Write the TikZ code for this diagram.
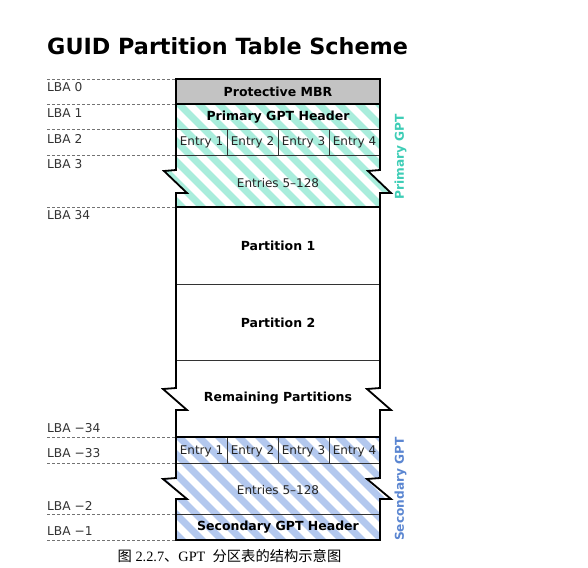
\documentclass[tikz,border=0pt]{standalone}
\usepackage{fontspec}
\setmainfont{DejaVu Sans}
\newfontfamily\cjk{Noto Sans CJK SC}
\newfontfamily\capserif{Liberation Serif}
\usepackage{xcolor}
\usepackage{tikz}

\definecolor{priteal}{HTML}{A9EDDC}
\definecolor{pritealtext}{HTML}{3ECDB6}
\definecolor{secblue}{HTML}{B3C8EE}
\definecolor{secbluetext}{HTML}{5B86D1}
\definecolor{mbrgray}{HTML}{C3C3C3}

\begin{document}
\begin{tikzpicture}[x=1pt, y=-1pt,
    lba/.style={anchor=west, inner sep=0pt, text=black!80,
                font=\fontsize{12.2}{14}\selectfont},
    lbaline/.style={dash pattern=on 3pt off 2pt, black!55, line width=0.8pt},
    bold/.style={inner sep=0pt, font=\fontsize{12.5}{14}\selectfont\bfseries},
    plain/.style={inner sep=0pt, text=black!85, font=\fontsize{12}{14}\selectfont},
    side/.style={rotate=90, inner sep=0pt, font=\fontsize{12.2}{14}\selectfont\bfseries},
    stripe/.style={line width=7pt},
    thin/.style={line width=0.9pt, black!80},
    thick/.style={line width=1.8pt, black},
  ]
    \useasboundingbox (0,0) rectangle (588,567);

    % title
    \node[anchor=base west, inner sep=0pt, font=\fontsize{22.3}{26}\selectfont\bfseries]
      (title) at (47,55) {GUID Partition Table Scheme};

    % fills
    \fill[mbrgray] (176,79) rectangle (380,104);
    \begin{scope}
      \clip (176,104) -- (176,170) -- (164,171) -- (187,193) -- (176,193) -- (176,207)
         -- (380,207) -- (380,193) -- (391,193) -- (368,171) -- (380,170) -- (380,104) -- cycle;
      \foreach \s in {0,...,20}
        \draw[stripe, priteal] ({30+20*\s},95) -- ++(125,125);
    \end{scope}
    \begin{scope}
      \clip (176,437) -- (176,478) -- (163,479) -- (187,499) -- (176,499) -- (176,540)
         -- (380,540) -- (380,499) -- (391,499) -- (367,479) -- (380,478) -- (380,437) -- cycle;
      \foreach \s in {0,...,20}
        \draw[stripe, secblue] ({30+20*\s},428) -- ++(125,125);
    \end{scope}

    % LBA guides
    \foreach \y in {79,104,129,155,207,437,463,514,540}
      \draw[lbaline] (47,\y) -- (176,\y);
    \node[lba] (lba0)  at (47,87)  {LBA 0};
    \node[lba] (lba1)  at (47,113) {LBA 1};
    \node[lba] (lba2)  at (47,139) {LBA 2};
    \node[lba] (lba3)  at (47,164) {LBA 3};
    \node[lba] (lba34) at (47,215) {LBA 34};
    \node[lba] (lbam34) at (47,428) {LBA −34};
    \node[lba] (lbam33) at (47,453) {LBA −33};
    \node[lba] (lbam2)  at (47,506) {LBA −2};
    \node[lba] (lbam1)  at (47,531) {LBA −1};

    % inner lines
    \draw[thin] (176,129) -- (380,129) (176,155) -- (380,155);
    \draw[thin] (176,284) -- (380,284) (176,360) -- (380,360);
    \draw[thin] (176,463) -- (380,463) (176,514) -- (380,514);
    \foreach \x in {227,278,329} {
      \draw[thin] (\x,129) -- (\x,155);
      \draw[thin] (\x,437) -- (\x,463);
    }

    % outline
    \draw[thick] (176,104) -- (380,104) (176,207) -- (380,207) (176,437) -- (380,437);
    \draw[thick] (176,79) -- (176,170) -- (164,171) -- (187,193) -- (176,193)
      -- (176,388) -- (163,389) -- (187,410) -- (176,410)
      -- (176,478) -- (163,479) -- (187,499) -- (176,499) -- (176,540)
      -- (380,540) -- (380,499) -- (391,499) -- (367,479) -- (380,478)
      -- (380,410) -- (391,410) -- (367,389) -- (380,388)
      -- (380,193) -- (391,193) -- (368,171) -- (380,170) -- (380,79) -- cycle;

    % texts
    \node[bold] (mbr)     at (278,92)  {Protective MBR};
    \node[bold] (phead)   at (278,117) {Primary GPT Header};
    \node[plain] (pe1) at (201.5,142) {Entry 1};
    \node[plain] (pe2) at (252.5,142) {Entry 2};
    \node[plain] (pe3) at (303.5,142) {Entry 3};
    \node[plain] (pe4) at (354.5,142) {Entry 4};
    \node[plain] (prest)  at (278,183) {Entries 5–128};
    \node[bold] (part1)   at (278,246) {Partition 1};
    \node[bold] (part2)   at (278,323) {Partition 2};
    \node[bold] (remain)  at (278,398) {Remaining Partitions};
    \node[plain] (se1) at (201.5,451) {Entry 1};
    \node[plain] (se2) at (252.5,451) {Entry 2};
    \node[plain] (se3) at (303.5,451) {Entry 3};
    \node[plain] (se4) at (354.5,451) {Entry 4};
    \node[plain] (srest)  at (278,490) {Entries 5–128};
    \node[bold] (shead)   at (278,527) {Secondary GPT Header};

    \node[side, text=pritealtext] (prigpt) at (400.5,157) {Primary GPT};
    \node[side, text=secbluetext] (secgpt) at (400.5,489) {Secondary GPT};

    % caption
    \node[inner sep=0pt, font=\fontsize{14.3}{16}\selectfont] (caption) at (229.5,556)
      {{\cjk 图}\capserif~2.2.7{\cjk 、}GPT~~{\cjk 分区表的结构示意图}};
\end{tikzpicture}
\end{document}
